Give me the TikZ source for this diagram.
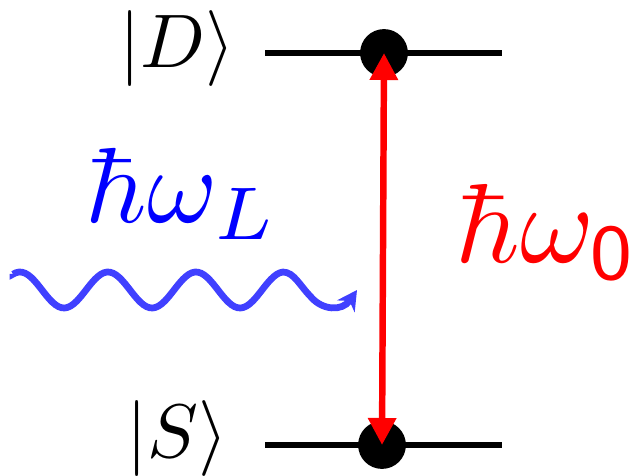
\documentclass[tikz,border=0pt]{standalone}
\usetikzlibrary{arrows.meta}
\begin{document}
\begin{tikzpicture}[x=0.0125cm,y=-0.0125cm,
        poziom/.style={line width=2.1pt},
        kropka/.style={circle,fill=black,minimum size=17pt,inner sep=0pt},
        stan/.style={anchor=base,scale=2.7,inner sep=0pt},
        energia/.style={anchor=base,scale=3.8,inner sep=0pt}]
        \useasboundingbox (0,0) rectangle (639,476);

        % Poziomy
        \coordinate (D1) at (265,53); \coordinate (D2) at (502,53);
        \coordinate (S1) at (265,445); \coordinate (S2) at (502,445);
        \draw[poziom] (D1) -- (D2);
        \draw[poziom] (S1) -- (S2);
        \node[kropka] (kD) at (384,53) {};
        \node[kropka] (kS) at (382,445) {};
        \node[stan] (lD) at (177,68) {$|D\rangle$};
        \node[stan] (lS) at (177,457) {$|S\rangle$};

        % Przejscie
        \draw[red, line width=2.3pt, {Triangle[length=9.6pt,width=9.6pt]}-{Triangle[length=9.6pt,width=9.6pt]}] (kS.center) -- (kD.center);
        \node[energia, red, scale=4/3.8] (w0) at (547,263) {$\hbar\omega_{\mathsf{0}}$};

        % Foton
        \coordinate (f1) at (13,274); \coordinate (f2) at (357,290);
        \draw[blue!75, line width=2.4pt, -{Stealth[length=7pt,width=7.5pt]}]
            (f1) -- plot[domain=13:283, samples=90, smooth] (\x,{290-18*cos(4.0909*(\x-20))})
            .. controls (294,272) and (300,286) .. (311,297)
            .. controls (322,310) and (342,312) .. (f2);
        \node[energia, blue] (wL) at (182,223) {$\hbar\omega_L$};
\end{tikzpicture}
\end{document}
